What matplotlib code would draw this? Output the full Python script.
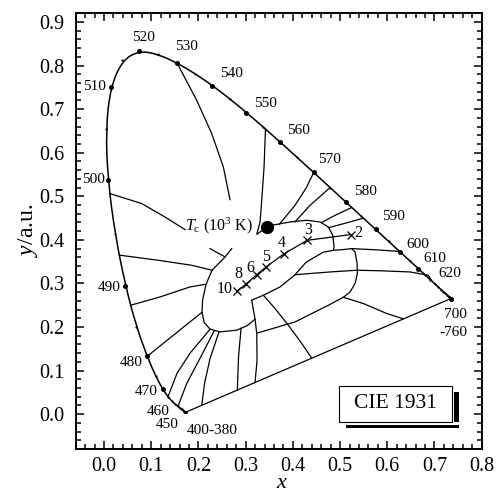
import matplotlib
matplotlib.use("Agg")
import matplotlib.pyplot as plt
from matplotlib.patches import Rectangle, PathPatch
from matplotlib.path import Path
from matplotlib.ticker import MultipleLocator, FormatStrFormatter

plt.rcParams['font.family'] = 'Liberation Serif'
plt.rcParams['mathtext.fontset'] = 'custom'
plt.rcParams['mathtext.rm'] = 'Liberation Serif'
plt.rcParams['mathtext.it'] = 'Liberation Serif:italic'

# CIE 1931 spectral locus, 380-700 nm in 5 nm steps
wl = list(range(380, 705, 5))
locus_x = [0.1741, 0.1740, 0.1738, 0.1736, 0.1733, 0.1730, 0.1726, 0.1721, 0.1714, 0.1703,
           0.1689, 0.1669, 0.1644, 0.1611, 0.1566, 0.1510, 0.1440, 0.1355, 0.1241, 0.1096,
           0.0913, 0.0687, 0.0454, 0.0235, 0.0082, 0.0039, 0.0139, 0.0389, 0.0743, 0.1142,
           0.1547, 0.1929, 0.2296, 0.2658, 0.3016, 0.3373, 0.3731, 0.4087, 0.4441, 0.4788,
           0.5125, 0.5448, 0.5752, 0.6029, 0.6270, 0.6482, 0.6658, 0.6801, 0.6915, 0.7006,
           0.7079, 0.7140, 0.7190, 0.7230, 0.7260, 0.7283, 0.7300, 0.7311, 0.7320, 0.7327,
           0.7334, 0.7340, 0.7344, 0.7346, 0.7347]
locus_y = [0.0050, 0.0050, 0.0049, 0.0049, 0.0048, 0.0048, 0.0048, 0.0048, 0.0051, 0.0058,
           0.0069, 0.0086, 0.0109, 0.0138, 0.0177, 0.0227, 0.0297, 0.0399, 0.0578, 0.0868,
           0.1327, 0.2007, 0.2950, 0.4127, 0.5384, 0.6548, 0.7502, 0.8120, 0.8338, 0.8262,
           0.8059, 0.7816, 0.7543, 0.7243, 0.6923, 0.6589, 0.6245, 0.5896, 0.5547, 0.5202,
           0.4866, 0.4544, 0.4242, 0.3965, 0.3725, 0.3514, 0.3340, 0.3197, 0.3083, 0.2993,
           0.2920, 0.2859, 0.2809, 0.2770, 0.2740, 0.2717, 0.2700, 0.2689, 0.2680, 0.2673,
           0.2666, 0.2660, 0.2656, 0.2654, 0.2653]
dot_wl = [470, 480, 490, 500, 510, 520, 530, 540, 550, 560, 570, 580, 590, 600, 610, 700]

# wavelength labels
wl_text = ['520', '530', '540', '550', '560', '570', '580', '590', '600', '610', '620',
           '700', '-760', '510', '500', '490', '480', '470', '460', '450', '400-380']
wl_text_x = [0.0833, 0.1752, 0.2706, 0.3426, 0.4117, 0.4773, 0.5530, 0.6129, 0.6638, 0.7013,
             0.7331, 0.7436, 0.7400, -0.0197, -0.0216, 0.0106, 0.0566, 0.0890, 0.1138, 0.1328,
             0.2282]
wl_text_y = [0.8654, 0.8440, 0.7814, 0.7140, 0.6514, 0.5842, 0.5099, 0.4541, 0.3899, 0.3571,
             0.3227, 0.2287, 0.1874, 0.7530, 0.5390, 0.2906, 0.1186, 0.0511, 0.0069, -0.0229,
             -0.0367]

# Planckian locus marks (10^3 K)
tc_text = ['10', '8', '6', '5', '4', '3', '2']
tc_x = [0.2811, 0.3008, 0.3235, 0.3432, 0.3820, 0.4307, 0.5227]
tc_y = [0.2821, 0.2982, 0.3204, 0.3378, 0.3686, 0.3991, 0.4122]
tc_lab_x = [0.2564, 0.2845, 0.3093, 0.3432, 0.3765, 0.4328, 0.5388]
tc_lab_y = [0.2867, 0.3227, 0.3365, 0.3608, 0.3938, 0.4236, 0.4167]

source_xy = (0.346, 0.4296)

# colour region boundaries
b_530 = [(0.1547, 0.8059), (0.1964, 0.7202), (0.2282, 0.6438), (0.2528, 0.5672), (0.2669, 0.4924)]
b_555 = [(0.342, 0.654), (0.3390, 0.5672), (0.3341, 0.4908), (0.3305, 0.4411), (0.3235, 0.4128),
         (0.3460, 0.4296)]
white_top = [(0.3460, 0.4296), (0.3553, 0.4335), (0.3941, 0.4411), (0.4294, 0.4450),
             (0.4576, 0.4411), (0.4752, 0.4296), (0.4845, 0.4106), (0.4873, 0.3837),
             (0.4858, 0.3761)]
white_low = [(0.2706, 0.3800), (0.2564, 0.3608), (0.2288, 0.3303), (0.2161, 0.2982),
             (0.2087, 0.2615), (0.2076, 0.2339), (0.2119, 0.2110), (0.2246, 0.1950),
             (0.2458, 0.1888), (0.2811, 0.1927), (0.3030, 0.2030), (0.3199, 0.2179)]
b_498a = [(0.0127, 0.5062), (0.0799, 0.4833), (0.1292, 0.4525), (0.1716, 0.4236)]
b_498b = [(0.2246, 0.3800), (0.2564, 0.3608)]
b_494 = [(0.0324, 0.365), (0.1150, 0.3532), (0.1858, 0.3417), (0.2288, 0.3303)]
b_488 = [(0.0565, 0.25), (0.1186, 0.2690), (0.1822, 0.2920), (0.2161, 0.2982)]
b_480 = [(0.0913, 0.1327), (0.2076, 0.2339)]
b_465 = [(0.2246, 0.1950), (0.1822, 0.1399), (0.1547, 0.0940), (0.1355, 0.0399)]
b_450 = [(0.2331, 0.1906), (0.2034, 0.1284), (0.1752, 0.0704), (0.1566, 0.0177)]
b_p1 = [(0.2436, 0.1888), (0.2246, 0.1278), (0.2129, 0.0704), (0.2070, 0.0206)]
b_p2 = [(0.2903, 0.1972), (0.2850, 0.1330), (0.2824, 0.0553)]
b_p3 = [(0.3129, 0.2615), (0.3199, 0.2179), (0.3235, 0.1858), (0.3242, 0.1239), (0.3199, 0.0725)]
pink = [(0.3129, 0.2615), (0.3375, 0.2729), (0.3729, 0.2920), (0.4047, 0.3200), (0.4280, 0.3486),
        (0.4640, 0.3716), (0.4858, 0.3761), (0.5070, 0.3778), (0.5248, 0.3800), (0.5318, 0.3722),
        (0.5360, 0.3463), (0.5367, 0.3234), (0.5318, 0.2998), (0.5212, 0.2805), (0.5070, 0.2683),
        (0.4752, 0.2500), (0.4047, 0.2117), (0.3235, 0.1858)]
b_p4 = [(0.3375, 0.2729), (0.3623, 0.2424), (0.3905, 0.2041), (0.4189, 0.1622), (0.4400, 0.1285)]
b_p5 = [(0.5070, 0.2683), (0.5494, 0.2539), (0.5989, 0.2310), (0.6341, 0.2188)]
b_620 = [(0.4047, 0.3200), (0.4788, 0.3264), (0.5360, 0.3303), (0.5847, 0.3291), (0.6483, 0.3264),
         (0.6871, 0.3188), (0.6949, 0.3049)]
b_600 = [(0.5248, 0.3800), (0.5742, 0.3773), (0.626, 0.3735)]
b_570 = [(0.3714, 0.4358), (0.4047, 0.4794), (0.4294, 0.5213), (0.4441, 0.5547)]
b_575 = [(0.4047, 0.4415), (0.4364, 0.4794), (0.4646, 0.5062), (0.4788, 0.5202)]
b_582 = [(0.4619, 0.4404), (0.4894, 0.4564), (0.5248, 0.4743)]
b_587 = [(0.4752, 0.4278), (0.5106, 0.4381), (0.5494, 0.4498)]

boundaries = [b_530, b_555, white_top, white_low, b_498a, b_498b, b_494, b_488, b_480,
              b_465, b_450, b_p1, b_p2, b_p3, pink, b_p4, b_p5, b_620, b_600,
              b_570, b_575, b_582, b_587]

fig = plt.figure(figsize=(4.97, 4.95), dpi=100)
ax = fig.add_axes([0.1523, 0.0929, 0.8169, 0.8802])

# spectral locus drawn as a smooth quadratic spline through the tabulated points
pts = list(zip(locus_x, locus_y))
verts = [pts[0]]
codes = [Path.MOVETO]
for i in range(1, len(pts) - 1):
    mid = ((pts[i][0] + pts[i + 1][0]) / 2, (pts[i][1] + pts[i + 1][1]) / 2)
    verts += [pts[i], mid]
    codes += [Path.CURVE3, Path.CURVE3]
verts.append(pts[-1])
codes.append(Path.LINETO)
ax.add_patch(PathPatch(Path(verts, codes), fill=False, lw=1.1, edgecolor='black'))

ax.plot([locus_x[0], locus_x[-1]], [locus_y[0], locus_y[-1]], color='black', lw=0.9)
ax.plot(locus_x, locus_y, 'o', color='black', ms=1.6, mew=0)
for w in dot_wl:
    i = wl.index(w)
    ax.plot(locus_x[i], locus_y[i], 'o', color='black', ms=3.6, mew=0)

for b in boundaries:
    xs, ys = zip(*b)
    ax.plot(xs, ys, color='black', lw=0.9)

ax.plot(tc_x, tc_y, color='black', lw=0.9)
ax.plot(tc_x, tc_y, 'x', color='black', ms=6, mew=0.9)
for t, lx, ly in zip(tc_text, tc_lab_x, tc_lab_y):
    ax.text(lx, ly, t, fontsize=11.5, ha='center', va='center')

ax.plot(*source_xy, 'o', color='black', ms=8.5)
ax.text(0.3163, 0.4319, r'$T_\mathrm{c}$ (10$^3$ K)', fontsize=11.5, ha='right', va='center')

for t, lx, ly in zip(wl_text, wl_text_x, wl_text_y):
    ax.text(lx, ly, t, fontsize=11, ha='center', va='center')

# CIE 1931 box with offset shadow
ax.add_patch(Rectangle((0.666, 0.0475), 0.279, 0.0076, transform=ax.transAxes,
                       color='black', lw=0))
ax.add_patch(Rectangle((0.9325, 0.0627), 0.0125, 0.069, transform=ax.transAxes,
                       color='black', lw=0))
ax.add_patch(Rectangle((0.649, 0.0627), 0.277, 0.0826, transform=ax.transAxes,
                       facecolor='white', edgecolor='black', lw=0.8))
ax.text(0.788, 0.104, 'CIE 1931', transform=ax.transAxes, fontsize=15.5,
        ha='center', va='center')

ax.set_xlim(-0.06, 0.8)
ax.set_ylim(-0.08, 0.92)
ax.xaxis.set_major_locator(MultipleLocator(0.1))
ax.xaxis.set_minor_locator(MultipleLocator(0.02))
ax.yaxis.set_major_locator(MultipleLocator(0.1))
ax.yaxis.set_minor_locator(MultipleLocator(0.02))
ax.xaxis.set_major_formatter(FormatStrFormatter('%.1f'))
ax.yaxis.set_major_formatter(FormatStrFormatter('%.1f'))
ax.tick_params(which='both', direction='in', top=True, right=True, width=1.1)
ax.tick_params(which='major', length=6, labelsize=14.5)
ax.tick_params(which='minor', length=3.5)
ax.tick_params(axis='x', pad=6)
ax.tick_params(axis='y', pad=8)
for s in ax.spines.values():
    s.set_linewidth(1.4)

ax.set_xlabel(r'$x$', fontsize=16)
ax.xaxis.set_label_coords(0.508, -0.079)
ax.xaxis.label.set_va('center')
ax.set_ylabel(r'$y$/a.u.', fontsize=17)
ax.yaxis.set_label_coords(-0.117, 0.503)
ax.yaxis.label.set_va('center')

fig.savefig('out.png', dpi=100)
